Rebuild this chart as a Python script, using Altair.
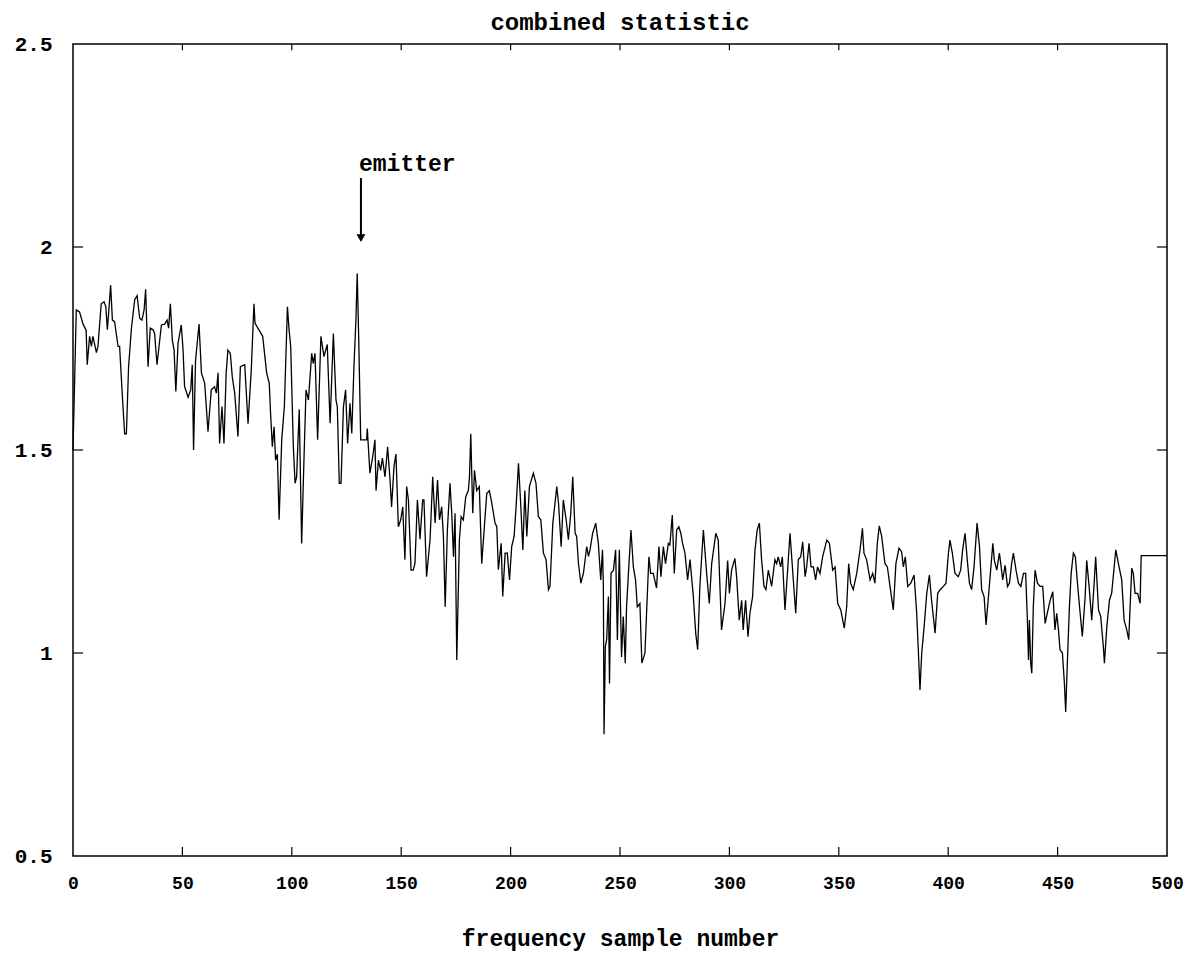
import altair as alt
import pandas as pd

# frequency sample number (x) and combined statistic (y)
sample = [0, 1.5, 3, 4.6, 6, 6.5, 7.6, 8.4, 9.1, 9.9, 10.7, 11.4, 12.9, 14.2, 15, 15.7, 16.5, 17.2, 18, 19,
          20.6, 21.3, 22.4, 23.6, 24.4, 25.4, 26.7, 28.2, 29.3, 30.5, 31.5, 32.5, 33.2, 34.3, 35.3, 36.6, 37.3, 38.4, 40.4, 41.9,
          43, 43.7, 44.5, 45.4, 46.2, 47, 48, 49.5, 50.3, 51, 52.6, 53.8, 54.5, 55.1, 56, 57.6, 58.7, 60.2, 61.7, 63.2,
          64.7, 65.5, 66.3, 67, 68.1, 69, 70, 70.8, 71.9, 72.8, 73.9, 75.4, 76.5, 78.5, 80, 81.5, 82.7, 83.2, 86.7, 88.5,
          89.7, 90.3, 91.1, 91.9, 92.6, 93.4, 94.2, 95.4, 96.6, 98, 98.7, 99.5, 100.7, 101.5, 102.2, 103.4, 104.5, 105.6, 106.5, 107.6,
          109.1, 109.8, 110.6, 111.8, 113.3, 114.7, 116.2, 117.5, 119, 120.2, 120.8, 121.7, 122.5, 123.6, 124.6, 125.5, 126.6, 127.4, 128.4, 129.3,
          129.9, 130.6, 131.5, 132.7, 134.2, 134.5, 135.7, 137, 138, 138.5, 139.6, 140.6, 141.4, 142.6, 143.8, 144.9, 145.6, 146.7, 147.6, 148.7,
          149.8, 150.7, 151.7, 152.5, 153.3, 154.5, 155.5, 156.3, 157.4, 158.6, 159.8, 160.4, 161.6, 163.2, 164.4, 165.5, 166.6, 167.5, 168.5, 169.3,
          170.1, 171.1, 172.3, 173.1, 173.9, 174.6, 175.4, 176.6, 177.4, 178.4, 179.5, 180.7, 181.2, 181.8, 182.7, 183.5, 184.5, 185.7, 186.8, 187.9,
          189.1, 190.3, 191.4, 192.9, 193.7, 194.4, 195.2, 195.7, 196.4, 197.5, 198.5, 199.5, 200.5, 201.6, 202.5, 203.6, 204.6, 205.6, 206.5, 207.4,
          208.6, 210.4, 211.6, 212.7, 213.8, 215, 216.2, 217.3, 218, 219.3, 220.3, 221.1, 221.9, 223.1, 224.1, 225.4, 226.4, 227.5, 228.4, 229.5,
          230.2, 231, 232.1, 233.3, 234.8, 235.6, 236.3, 237.5, 238.9, 240.1, 241.2, 242, 242.4, 242.7, 243.3, 243.9, 244.7, 245.2, 245.9, 247,
          248, 248.8, 249.7, 250.7, 251.5, 252.4, 253, 254.1, 255, 256.1, 257.1, 257.9, 259.1, 260, 261.4, 262.2, 263.2, 264, 265.2, 266.7,
          267.8, 268.7, 269.8, 270.8, 272.1, 272.8, 273.9, 274.8, 275.9, 276.9, 277.8, 278.6, 279.7, 280.9, 282, 283.5, 284.6, 285.5, 286.5, 288.1,
          289.6, 290.8, 291.9, 293.8, 294.9, 296.4, 298, 299.2, 300, 301, 302.5, 303.3, 304.5, 305.6, 306.3, 307.4, 308.5, 309.4, 310.6, 311.7,
          312.7, 313.7, 314.7, 315.8, 316.7, 317.8, 319.3, 320.8, 321.6, 322.3, 323.4, 324.2, 325.4, 326.6, 327.7, 328.9, 330.3, 331.5, 332.6, 333.5,
          334.6, 335.3, 336.4, 337.3, 338.4, 339.4, 340.3, 341.4, 342.6, 344.5, 345.7, 347.2, 348.3, 349.5, 350.9, 352.5, 353.6, 354.5, 355.4, 356.6,
          358.2, 359.7, 360.8, 361.5, 362.7, 364.3, 365.5, 366.5, 367.6, 368.5, 369.6, 371.1, 372.2, 373.4, 374.9, 376.1, 377.5, 378.7, 379.5, 380.4,
          381.5, 382.9, 384.4, 385.6, 386.4, 387.1, 387.9, 389, 390.2, 391.4, 392.4, 394, 395.2, 396.3, 397.8, 399, 400.1, 400.8, 401.9, 403.1,
          404.6, 405.7, 406.6, 407.7, 408.7, 409.7, 410.7, 411.8, 413.2, 414.3, 415.3, 416.4, 417.3, 418.4, 419.4, 420.4, 421.1, 422.2, 423.4, 424.2,
          424.9, 426, 427.1, 428, 429, 429.8, 431, 432.1, 433.2, 434.4, 435.4, 436.2, 436.7, 437.1, 437.7, 438.2, 438.9, 439.7, 440.8, 442,
          443.2, 444.3, 445.3, 446.6, 447.8, 448.8, 449.6, 450.4, 451.1, 452.2, 453.1, 453.7, 454.5, 455.4, 456.2, 457.2, 458.1, 459.2, 460.3, 461.3,
          462.6, 463.3, 464.4, 465.6, 466.7, 467.4, 468.7, 469.7, 470.9, 471.4, 472.5, 473.7, 474.7, 476.6, 477.8, 479.3, 480.4, 481.6, 482.5, 483.9,
          484.6, 485.4, 486.6, 487.7, 488.2, 500]

statistic = [1.50, 1.845, 1.84, 1.81, 1.795, 1.71, 1.78, 1.755, 1.78, 1.76, 1.74, 1.755, 1.86, 1.865, 1.853, 1.796, 1.853, 1.906, 1.82, 1.816,
             1.755, 1.755, 1.648, 1.54, 1.54, 1.705, 1.80, 1.87, 1.88, 1.824, 1.82, 1.845, 1.896, 1.705, 1.80, 1.796, 1.787, 1.71, 1.808, 1.81,
             1.82, 1.80, 1.86, 1.77, 1.746, 1.644, 1.763, 1.808, 1.746, 1.656, 1.63, 1.648, 1.71, 1.50, 1.72, 1.81, 1.69, 1.664, 1.545, 1.648,
             1.656, 1.64, 1.69, 1.516, 1.607, 1.516, 1.69, 1.746, 1.738, 1.68, 1.64, 1.533, 1.705, 1.71, 1.565, 1.70, 1.86, 1.812, 1.78, 1.69,
             1.664, 1.59, 1.508, 1.557, 1.475, 1.49, 1.328, 1.525, 1.607, 1.853, 1.80, 1.755, 1.508, 1.418, 1.434, 1.60, 1.27, 1.484, 1.648, 1.623,
             1.738, 1.713, 1.738, 1.525, 1.78, 1.73, 1.76, 1.566, 1.787, 1.623, 1.607, 1.418, 1.418, 1.607, 1.648, 1.516, 1.615, 1.541, 1.705, 1.82,
             1.935, 1.77, 1.525, 1.525, 1.525, 1.553, 1.443, 1.484, 1.525, 1.40, 1.475, 1.45, 1.48, 1.434, 1.508, 1.426, 1.36, 1.459, 1.49, 1.311,
             1.328, 1.36, 1.23, 1.41, 1.377, 1.204, 1.204, 1.221, 1.377, 1.28, 1.377, 1.377, 1.188, 1.28, 1.434, 1.32, 1.426, 1.328, 1.36, 1.287,
             1.114, 1.303, 1.418, 1.344, 1.237, 1.344, 0.983, 1.279, 1.336, 1.328, 1.385, 1.40, 1.434, 1.54, 1.344, 1.45, 1.40, 1.41, 1.22, 1.303,
             1.393, 1.40, 1.369, 1.32, 1.311, 1.205, 1.246, 1.27, 1.139, 1.246, 1.246, 1.18, 1.262, 1.287, 1.36, 1.467, 1.369, 1.254, 1.40, 1.287,
             1.41, 1.443, 1.418, 1.336, 1.328, 1.246, 1.23, 1.156, 1.164, 1.32, 1.369, 1.41, 1.369, 1.262, 1.377, 1.328, 1.279, 1.344, 1.434, 1.295,
             1.287, 1.221, 1.172, 1.197, 1.262, 1.238, 1.254, 1.295, 1.32, 1.27, 1.18, 1.254, 1.164, 0.80, 1.016, 1.033, 1.139, 0.925, 1.197, 1.204,
             1.254, 1.032, 1.254, 0.99, 1.09, 0.975, 1.114, 1.22, 1.303, 1.212, 1.18, 1.114, 1.122, 0.975, 1.0, 1.106, 1.237, 1.196, 1.196, 1.16,
             1.262, 1.188, 1.262, 1.22, 1.27, 1.266, 1.34, 1.196, 1.303, 1.311, 1.295, 1.27, 1.246, 1.18, 1.23, 1.14, 1.049, 1.008, 1.164, 1.303,
             1.196, 1.122, 1.22, 1.295, 1.278, 1.057, 1.122, 1.228, 1.147, 1.204, 1.233, 1.188, 1.081, 1.13, 1.057, 1.13, 1.04, 1.098, 1.139, 1.254,
             1.303, 1.32, 1.23, 1.164, 1.156, 1.204, 1.164, 1.23, 1.22, 1.237, 1.212, 1.237, 1.106, 1.204, 1.295, 1.204, 1.098, 1.23, 1.237, 1.274,
             1.188, 1.212, 1.27, 1.212, 1.212, 1.18, 1.212, 1.196, 1.237, 1.278, 1.27, 1.204, 1.212, 1.122, 1.106, 1.061, 1.114, 1.22, 1.172, 1.156,
             1.196, 1.254, 1.307, 1.246, 1.23, 1.18, 1.196, 1.172, 1.27, 1.313, 1.287, 1.22, 1.212, 1.164, 1.106, 1.22, 1.258, 1.25, 1.212, 1.237,
             1.164, 1.172, 1.192, 1.098, 1.0, 0.909, 1.0, 1.065, 1.147, 1.192, 1.13, 1.049, 1.147, 1.156, 1.164, 1.172, 1.246, 1.278, 1.246, 1.196,
             1.188, 1.204, 1.254, 1.295, 1.23, 1.172, 1.156, 1.212, 1.32, 1.262, 1.155, 1.139, 1.069, 1.139, 1.204, 1.27, 1.228, 1.204, 1.246, 1.212,
             1.18, 1.216, 1.164, 1.172, 1.22, 1.246, 1.204, 1.172, 1.164, 1.196, 1.196, 1.081, 0.983, 1.081, 0.975, 0.95, 1.114, 1.204, 1.172, 1.164,
             1.164, 1.073, 1.098, 1.13, 1.151, 1.057, 1.098, 1.057, 1.008, 1.0, 0.926, 0.855, 0.983, 1.114, 1.196, 1.246, 1.237, 1.164, 1.098, 1.041,
             1.139, 1.228, 1.164, 1.081, 1.172, 1.237, 1.106, 1.09, 1.016, 0.975, 1.065, 1.13, 1.147, 1.254, 1.22, 1.18, 1.081, 1.057, 1.033, 1.209,
             1.196, 1.147, 1.147, 1.122, 1.24, 1.24]

x_ticks = [50, 100, 150, 200, 250, 300, 350, 400, 450]
y_ticks = [1.0, 1.5, 2.0]
x_labels = [0, 50, 100, 150, 200, 250, 300, 350, 400, 450, 500]
y_labels = [0.5, 1.0, 1.5, 2.0, 2.5]

annot_text = "emitter"
annot_x = 130.7
annot_y = 2.204
arrow_x = 131.6
arrow_top = 2.17
arrow_tip = 2.022

X_DOM = [0, 500]
Y_DOM = [0.5, 2.5]
FONT = "Liberation Mono"

df = pd.DataFrame({"sample": sample, "stat": statistic})

xs = alt.Scale(domain=X_DOM, nice=False, zero=False)
ys = alt.Scale(domain=Y_DOM, nice=False, zero=False)

line = alt.Chart(df).mark_line(color="black", strokeWidth=1.3).encode(
    x=alt.X("sample:Q", scale=xs,
            axis=alt.Axis(values=x_labels, title="frequency sample number", format="d",
                          labelPadding=18, labelFlush=False, labelFontSize=18,
                          titlePadding=35, titleFontSize=23)),
    y=alt.Y("stat:Q", scale=ys,
            axis=alt.Axis(values=y_labels, title=None, format="~g", labelPadding=21,
                          labelFontSize=21)),
)

# inward tick marks on all four sides of the box
tick_len_x = 0.022   # in y units
tick_len_y = 4.6     # in x units
bt = pd.DataFrame({"x": x_ticks, "y": [Y_DOM[0]] * len(x_ticks), "y2": [Y_DOM[0] + tick_len_x] * len(x_ticks)})
tt = pd.DataFrame({"x": x_ticks, "y": [Y_DOM[1]] * len(x_ticks), "y2": [Y_DOM[1] - tick_len_x * 0.7] * len(x_ticks)})
lt = pd.DataFrame({"y": y_ticks, "x": [X_DOM[0]] * len(y_ticks), "x2": [X_DOM[0] + tick_len_y] * len(y_ticks)})
rt = pd.DataFrame({"y": y_ticks, "x": [X_DOM[1]] * len(y_ticks), "x2": [X_DOM[1] - tick_len_y] * len(y_ticks)})

def vticks(d):
    return alt.Chart(d).mark_rule(color="black", strokeWidth=1.2).encode(
        x=alt.X("x:Q", scale=xs), y=alt.Y("y:Q", scale=ys), y2="y2:Q")

def hticks(d):
    return alt.Chart(d).mark_rule(color="black", strokeWidth=1.2).encode(
        y=alt.Y("y:Q", scale=ys), x=alt.X("x:Q", scale=xs), x2="x2:Q")

ann = pd.DataFrame({"x": [annot_x], "y": [annot_y], "t": [annot_text],
                    "ax": [arrow_x], "ay": [arrow_top], "ay2": [arrow_tip]})
text = alt.Chart(ann).mark_text(align="left", baseline="middle", font=FONT, fontSize=23,
                                fontWeight="bold", color="black").encode(
    x=alt.X("x:Q", scale=xs), y=alt.Y("y:Q", scale=ys), text="t:N")
shaft = alt.Chart(ann).mark_rule(color="black", strokeWidth=2).encode(
    x=alt.X("ax:Q", scale=xs), y=alt.Y("ay:Q", scale=ys), y2="ay2:Q")
head = alt.Chart(ann).mark_point(shape="triangle-down", filled=True, color="black",
                                 size=80, opacity=1).encode(
    x=alt.X("ax:Q", scale=xs), y=alt.Y("ay2:Q", scale=ys))

chart = alt.layer(line, vticks(bt), vticks(tt), hticks(lt), hticks(rt), shaft, head, text).properties(
    width=1094, height=812,
    background="white",
    title=alt.Title("combined statistic", font=FONT, fontSize=24, fontWeight="bold",
                    color="black", anchor="middle", offset=-2),
    padding={"left": 73, "top": 44, "right": 35, "bottom": 110},
    autosize=alt.AutoSizeParams(type="none"),
).configure_view(
    stroke="black", strokeWidth=1.5
).configure_axis(
    grid=False, domain=False, ticks=False,
    labelFont=FONT, labelFontSize=19, labelFontWeight="bold", labelColor="black",
    titleFont=FONT, titleFontWeight="bold", titleColor="black",
)

chart.save("out.html", embed_options={"renderer": "svg", "actions": False})
